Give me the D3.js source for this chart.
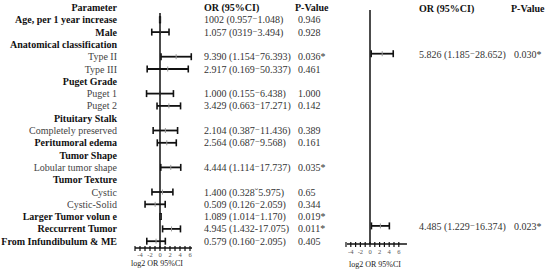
<!DOCTYPE html>
<html><head><meta charset="utf-8">
<script src="https://cdn.jsdelivr.net/npm/d3@7/dist/d3.min.js"></script>
<style>body{margin:0;background:#fff}svg{display:block}text{font-family:"Liberation Serif","Times New Roman","DejaVu Serif",serif}</style>
</head><body><svg id="c" width="550" height="271"></svg>
<script>
// ---- data ----
const labels = ["Age, per 1 year increase","Male","Anatomical classification","Type II","Type III","Puget Grade","Puget 1","Puget 2","Pituitary Stalk","Completely preserved","Peritumoral edema","Tumor Shape","Lobular tumor shape","Tumor Texture","Cystic","Cystic-Solid","Larger Tumor volun e","Reccurrent Tumor","From Infundibulum & ME"];
const boldRow = [1,1,1,0,0,1,0,0,1,0,1,1,0,1,0,0,1,1,1];
const orVal = [1.002,1.057,null,9.390,2.917,null,1.000,3.429,null,2.104,2.564,null,4.444,null,1.400,0.509,1.089,4.945,0.579];
const ciLow = [0.957,0.319,null,1.154,0.169,null,0.155,0.663,null,0.387,0.687,null,1.114,null,0.328,0.126,1.014,1.432,0.160];
const ciHigh = [1.048,3.494,null,76.393,50.337,null,6.438,17.271,null,11.436,9.568,null,17.737,null,5.975,2.059,1.170,17.075,2.095];
const orText = ["1002 (0.957\u207B1.048)","1.057 (0319\u207B3.494)","","9.390 (1.154\u207B76.393)","2.917 (0.169\u207B50.337)","","1.000 (0.155\u207B6.438)","3.429 (0.663\u207B17.271)","","2.104 (0.387\u207B11.436)","2.564 (0.687\u207B9.568)","","4.444 (1.114\u207B17.737)","","1.400 (0.328\u02D85.975)","0.509 (0.126\u207B2.059)","1.089 (1.014\u207B1.170)","4.945 (1.432-17.075)","0.579 (0.160\u207B2.095)"];
const pText = ["0.946","0.928","","0.036*","0.461","","1.000","0.142","","0.389","0.161","","0.035*","","0.65","0.344","0.019*","0.011*","0.405"];
// multivariate
const mvRows = ["Type II","Reccurrent Tumor"];
const mvOr = [5.826,4.485];
const mvLow = [1.185,1.229];
const mvHigh = [28.652,16.374];
const mvOrText = ["5.826 (1.185\u207B28.652)","4.485 (1.229\u207B16.374)"];
const mvPText = ["0.030*","0.023*"];
const tickVals = [-4,-2,0,2,4,6];
const minorTicks = [-5,-3,-1,1,3,5];

// ---- layout ----
const svg = d3.select("#c");
const rowKeys = ["__header"].concat(labels);
const y = d3.scalePoint().domain(rowKeys).range([7.5, 7.5 + 19*12.3]);
const x1 = d3.scaleLinear().domain([0, 6]).range([160, 190]);
const x2 = d3.scaleLinear().domain([0, 6]).range([370, 398.8]);

function txt(xp, yp, s, opt) {
  opt = opt || {};
  return svg.append("text").attr("x", xp).attr("y", yp)
    .attr("dominant-baseline", "central")
    .attr("text-anchor", opt.anchor || "start")
    .style("font-size", (opt.size || 10) + "px")
    .style("font-weight", opt.bold ? "bold" : "normal")
    .attr("fill", opt.fill || "#111")
    .text(s);
}

// headers
txt(117, y("__header"), "Parameter", {anchor:"end", bold:true});
txt(204, y("__header"), "OR (95%CI)", {bold:true});
txt(295, y("__header"), "P-Value", {bold:true});
txt(419, y("__header")+1, "OR (95%CI)", {bold:true});
txt(511, y("__header")+1, "P-Value", {bold:true});

labels.forEach((l, i) => {
  txt(117, y(l), l, {anchor:"end", bold:boldRow[i]===1, fill: boldRow[i]===1 ? "#111" : "#444"});
  if (orText[i]) txt(204, y(l), orText[i], {fill:"#333"});
  if (pText[i]) txt(298, y(l), pText[i], {fill:"#333"});
});

function forest(xs, rows, ors, lows, highs, dy, top, axisY, tickY, titleY, titleDx, ext) {
  const g = svg.append("g");
  rows.forEach((r, i) => {
    if (ors[i] == null) return;
    const yy = y(r) + dy;
    const a = xs(Math.log2(lows[i])), b = xs(Math.log2(highs[i])), m = xs(Math.log2(ors[i]));
    g.append("line").attr("x1", a).attr("x2", b).attr("y1", yy).attr("y2", yy).attr("stroke", "#111").attr("stroke-width", 1.8);
    [a, b].forEach(v => g.append("line").attr("x1", v).attr("x2", v).attr("y1", yy-3.5).attr("y2", yy+3.5).attr("stroke", "#111").attr("stroke-width", 1.6));
    g.append("line").attr("x1", m).attr("x2", m).attr("y1", yy-2.5).attr("y2", yy+2.5).attr("stroke", "#999").attr("stroke-width", 1);
  });
  g.append("line").attr("x1", xs(0)).attr("x2", xs(0)).attr("y1", top).attr("y2", axisY).attr("stroke", "#111").attr("stroke-width", 1.5);
  g.append("line").attr("x1", xs(ext[0])).attr("x2", xs(ext[1])).attr("y1", axisY).attr("y2", axisY).attr("stroke", "#111").attr("stroke-width", 1.5);
  tickVals.concat(minorTicks).forEach(t => {
    g.append("line").attr("x1", xs(t)).attr("x2", xs(t)).attr("y1", axisY-2).attr("y2", axisY+3).attr("stroke", "#111").attr("stroke-width", 1.2);
  });
  tickVals.forEach(t => {
    g.append("text").attr("x", xs(t)).attr("y", tickY).attr("text-anchor", "middle").attr("dominant-baseline", "central")
      .style("font-size", "6.5px").attr("fill", "#555").text(t);
  });
  g.append("text").attr("x", xs(0) + titleDx).attr("y", titleY).attr("text-anchor", "middle").attr("dominant-baseline", "central")
    .style("font-size", "8px").attr("fill", "#222").text("log2  OR  95%CI");
}

forest(x1, labels, orVal, ciLow, ciHigh, 0, 13, 248, 254.5, 263.5, -3, [-5, 6.4]);
forest(x2, mvRows, mvOr, mvLow, mvHigh, -3, 10, 244, 251, 264, 5, [-4.8, 7.7]);

mvRows.forEach((r, i) => {
  txt(419, y(r) - 2, mvOrText[i], {fill:"#333"});
  txt(514, y(r) - 2, mvPText[i], {fill:"#333"});
});
</script></body></html>
